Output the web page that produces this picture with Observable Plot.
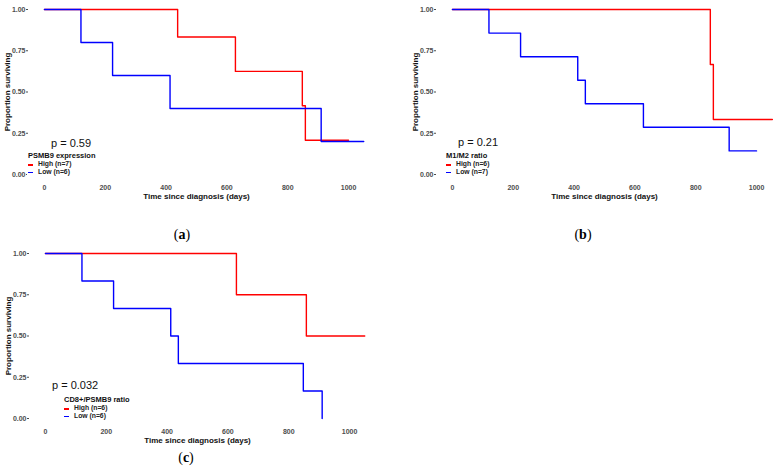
<!DOCTYPE html>
<html><head><meta charset="utf-8">
<script src="https://cdn.jsdelivr.net/npm/d3@7"></script>
<script src="https://cdn.jsdelivr.net/npm/@observablehq/plot@0.6"></script>
<style>
body{margin:0;background:#fff;}
#wrap{position:relative;width:776px;height:468px;overflow:hidden;background:#fff;font-family:"Liberation Sans",Arial,sans-serif;}
.panel{position:absolute;}
.panel svg{overflow:visible;}
.panel [aria-label="x-axis tick label"], .panel [aria-label="y-axis tick label"]{font-weight:bold;}
.pval{position:absolute;font-size:11px;color:#111;line-height:1;transform:translateY(-50%);white-space:nowrap;}
.leg{position:absolute;font-weight:bold;line-height:1;background:#fff;padding:0 1px;}
.leg .t{color:#111;font-size:7.5px;height:9px;white-space:nowrap;}
.leg .it{display:flex;align-items:center;color:#222;font-size:6.8px;height:7.6px;white-space:nowrap;}
.leg .k{display:inline-block;width:5px;height:1.6px;margin-right:5px;}
.lab{position:absolute;font-family:"Liberation Serif","DejaVu Serif",serif;font-size:14px;transform:translate(-50%,-50%);color:#000;}
</style></head><body><div id="wrap"></div>
<script>
// shared axis ticks
const xTicks = [0, 200, 400, 600, 800, 1000];
const yTicks = [0, 0.25, 0.5, 0.75, 1];
const groups = ["High", "Low"];
const colors = ["#ff0000", "#0000ff"];

// (a) PSMB9 expression
const aHighTime = [0, 438, 628, 848, 858, 1000];
const aHighSurv = [1, 0.833, 0.625, 0.417, 0.208, 0.208];
const aLowTime  = [0, 120, 224, 413, 910, 1050];
const aLowSurv  = [1, 0.8, 0.6, 0.4, 0.2, 0.2];
const aLegend = ["High (n=7)", "Low (n=6)"];

// (b) M1/M2 ratio
const bHighTime = [0, 848, 858, 1052];
const bHighSurv = [1, 0.667, 0.333, 0.333];
const bLowTime  = [0, 120, 224, 412, 437, 628, 910, 1000];
const bLowSurv  = [1, 0.857, 0.714, 0.571, 0.429, 0.286, 0.143, 0.143];
const bLegend = ["High (n=6)", "Low (n=7)"];

// (c) CD8+/PSMB9 ratio
const cHighTime = [0, 628, 858, 1050];
const cHighSurv = [1, 0.75, 0.5, 0.5];
const cLowTime  = [0, 120, 224, 412, 437, 848, 910, 910];
const cLowSurv  = [1, 0.833, 0.667, 0.5, 0.333, 0.167, 0.167, 0];
const cLegend = ["High (n=6)", "Low (n=6)"];

const panels = [
  {tag:"(a)", left:0, top:0, width:376, hi:[aHighTime,aHighSurv], lo:[aLowTime,aLowSurv], title:"PSMB9 expression", legend:aLegend, p:"p = 0.59",
   pPos:[51,143], legPos:[27,152], labPos:[182,235]},
  {tag:"(b)", left:408, top:0, width:368, hi:[bHighTime,bHighSurv], lo:[bLowTime,bLowSurv], title:"M1/M2 ratio", legend:bLegend, p:"p = 0.21",
   pPos:[458,142], legPos:[445,152], labPos:[583,235]},
  {tag:"(c)", left:1, top:244, width:376, hi:[cHighTime,cHighSurv], lo:[cLowTime,cLowSurv], title:"CD8+/PSMB9 ratio", legend:cLegend, p:"p = 0.032",
   pPos:[52,385], legPos:[63,396], labPos:[186,458]}
];

const wrap = document.getElementById("wrap");

function toRows(pair){ return pair[0].map((t,i)=>({t, s:pair[1][i]})); }

for (const P of panels) {
  const hi = toRows(P.hi), lo = toRows(P.lo);
  const svg = Plot.plot({
    width: P.width, height: 200,
    marginLeft: 28, marginRight: P.width - 28 - 336, marginTop: 0.75, marginBottom: 17.75,
    x: {domain: [-52.5, 1052.5]},
    y: {domain: [-0.05, 1.05]},
    style: {fontFamily: "'Liberation Sans', Arial, sans-serif", background: "transparent"},
    marks: [
      Plot.axisY({ticks: yTicks, tickFormat: d => d.toFixed(2), tickSize: 2, tickPadding: 1, fontSize: 7, color: "#4d4d4d", label: null}),
      Plot.axisX({ticks: xTicks, tickFormat: d => String(d), tickSize: 0, tickPadding: 2.5, fontSize: 7, color: "#4d4d4d", label: null}),
      Plot.line(hi, {x: "t", y: "s", curve: "step-after", stroke: colors[0], strokeWidth: 1.4}),
      Plot.line(lo, {x: "t", y: "s", curve: "step-after", stroke: colors[1], strokeWidth: 1.4}),
      Plot.text(["Time since diagnosis (days)"], {frameAnchor: "bottom", dy: 13.5, lineAnchor: "middle", fontSize: 8, fontWeight: "bold", fill: "#111"}),
      Plot.text(["Proportion surviving"], {frameAnchor: "left", dx: -21, rotate: -90, textAnchor: "middle", lineAnchor: "middle", fontSize: 8, fontWeight: "bold", fill: "#111"})
    ]
  });
  const div = document.createElement("div");
  div.className = "panel";
  div.style.left = P.left + "px"; div.style.top = P.top + "px";
  div.appendChild(svg);
  wrap.appendChild(div);

  const pv = document.createElement("div");
  pv.className = "pval"; pv.textContent = P.p;
  pv.style.left = P.pPos[0] + "px"; pv.style.top = P.pPos[1] + "px";
  wrap.appendChild(pv);

  const lg = document.createElement("div");
  lg.className = "leg";
  lg.style.left = P.legPos[0] + "px"; lg.style.top = P.legPos[1] + "px";
  const tt = document.createElement("div"); tt.className = "t"; tt.textContent = P.title; lg.appendChild(tt);
  P.legend.forEach((txt, i) => {
    const it = document.createElement("div"); it.className = "it";
    const k = document.createElement("span"); k.className = "k"; k.style.background = colors[i];
    const s = document.createElement("span"); s.textContent = txt;
    it.appendChild(k); it.appendChild(s); lg.appendChild(it);
  });
  wrap.appendChild(lg);

  const lab = document.createElement("div");
  lab.className = "lab";
  lab.innerHTML = "(<b>" + P.tag.slice(1, -1) + "</b>)";
  lab.style.left = P.labPos[0] + "px"; lab.style.top = P.labPos[1] + "px";
  wrap.appendChild(lab);
}
</script></body></html>
